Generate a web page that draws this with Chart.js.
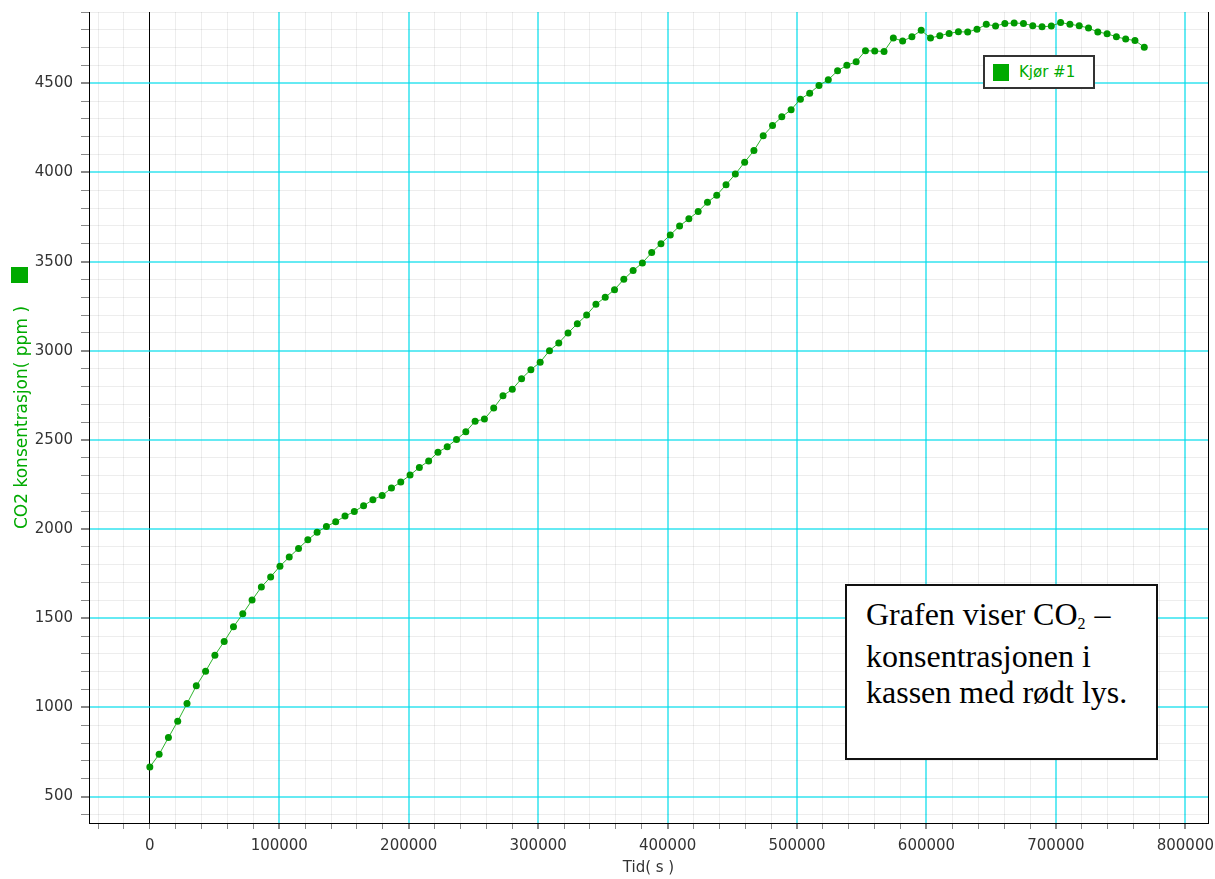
<!DOCTYPE html>
<html lang="no">
<head>
<meta charset="utf-8">
<title>CO2 konsentrasjon</title>
<script src="https://cdn.jsdelivr.net/npm/chart.js@4.4.1/dist/chart.umd.min.js"></script>
<style>
  html, body { margin: 0; padding: 0; background: #fff; }
  .wrap { position: relative; width: 1215px; height: 879px; overflow: hidden; }
  #co2Chart { display: block; }

  /* green marker above the y-axis title */
  .y-marker { position: absolute; left: 11px; top: 267px; width: 17px; height: 16px; background: #00AA00; }

  /* legend (filled from the chart by the htmlLegend plugin) */
  .legend-box {
    position: absolute; left: 983px; top: 55px; width: 112px; height: 34px;
    box-sizing: border-box; border: 2px solid #333; background: #fff;
    display: flex; align-items: center;
    font: 15px 'DejaVu Sans', sans-serif;
  }
  .legend-box .swatch { width: 16px; height: 17px; margin: 0 10px 0 8px; }

  /* annotation box */
  .note {
    position: absolute; left: 845px; top: 584px; width: 313px; height: 176px;
    box-sizing: border-box; border: 2px solid #111; background: #fff;
    padding: 10px 0 0 19px; white-space: nowrap;
    font: 32px/36px 'Liberation Serif', 'Times New Roman', serif; color: #000;
  }
  .note .sub { font-size: 16px; position: relative; top: 4px; margin-right: 1px; }
</style>
</head>
<body>
<div class="wrap">
  <canvas id="co2Chart" width="1215" height="879"></canvas>
  <div class="y-marker"></div>
  <div class="legend-box" id="legend"></div>
  <div class="note">Grafen viser CO<span class="sub">2</span> –<br>konsentrasjonen i<br>kassen med rødt lys.</div>
</div>

<script>
/* ----------------------------------------------------------- */
/* DATA — time (s) and CO2 (ppm)      */
/* ----------------------------------------------------------- */
const timeSec = [
  0, 7180, 14360, 21540, 28720, 35900, 43080, 50260, 57440, 64620,
  71800, 78980, 86160, 93340, 100520, 107700, 114880, 122060, 129240, 136420,
  143600, 150780, 157960, 165140, 172320, 179500, 186680, 193860, 201040, 208220,
  215400, 222580, 229760, 236940, 244120, 251300, 258480, 265660, 272840, 280020,
  287200, 294380, 301560, 308740, 315920, 323100, 330280, 337460, 344640, 351820,
  359000, 366180, 373360, 380540, 387720, 394900, 402080, 409260, 416440, 423620,
  430800, 437980, 445160, 452340, 459520, 466700, 473880, 481060, 488240, 495420,
  502600, 509780, 516960, 524140, 531320, 538500, 545680, 552860, 560040, 567220,
  574400, 581580, 588760, 595940, 603120, 610300, 617480, 624660, 631840, 639020,
  646200, 653380, 660560, 667740, 674920, 682100, 689280, 696460, 703640, 710820,
  718000, 725180, 732360, 739540, 746720, 753900, 761080, 768260
];

const co2Ppm = [
  666, 737, 831, 923, 1022, 1121, 1203, 1293, 1370, 1452,
  1525, 1602, 1675, 1732, 1792, 1843, 1892, 1940, 1982, 2015,
  2041, 2073, 2099, 2131, 2165, 2189, 2230, 2264, 2303, 2346,
  2382, 2431, 2462, 2503, 2546, 2605, 2617, 2679, 2748, 2784,
  2844, 2894, 2936, 3001, 3044, 3100, 3152, 3201, 3261, 3300,
  3343, 3401, 3450, 3493, 3551, 3601, 3650, 3700, 3740, 3781,
  3833, 3873, 3931, 3991, 4058, 4123, 4206, 4263, 4312, 4352,
  4411, 4445, 4488, 4520, 4570, 4601, 4621, 4683, 4681, 4679,
  4754, 4737, 4761, 4797, 4754, 4767, 4780, 4789, 4788, 4803,
  4831, 4821, 4836, 4838, 4836, 4823, 4817, 4821, 4841, 4831,
  4823, 4810, 4788, 4778, 4761, 4748, 4740, 4703
];

const seriesLabel = 'Kjør #1';
const xTitle = 'Tid( s )';
const yTitle = 'CO2 konsentrasjon( ppm )';

// axis ranges and tick steps (minor step / labelled step)
const xRange = [-47000, 817500];
const xSteps = [20000, 100000];
const yRange = [352, 4900];
const ySteps = [100, 500];

(function () {
  'use strict';

  const GREEN = '#00AA00';
  // translucent so the black zero line stays solid where lines cross it
  const CYAN = 'rgba(0, 220, 235, 0.6)';
  const MINOR = 'rgba(0, 0, 0, 0.07)';
  const TICK_FONT = { family: "'DejaVu Sans', sans-serif", size: 15 };

  /* ----------------------------------------------------------- */
  /* HTML LEGEND                                                  */
  /* ----------------------------------------------------------- */
  const htmlLegend = {
    id: 'htmlLegend',
    afterUpdate(chart, args, opts) {
      const box = document.getElementById(opts.containerID);
      if (!box) return;
      box.innerHTML = '';
      const items = chart.options.plugins.legend.labels.generateLabels(chart);
      items.forEach(item => {
        const sw = document.createElement('span');
        sw.className = 'swatch';
        sw.style.background = item.fillStyle;
        const txt = document.createElement('span');
        txt.textContent = item.text;
        txt.style.color = item.fillStyle;
        box.appendChild(sw);
        box.appendChild(txt);
      });
    }
  };

  /* ----------------------------------------------------------- */
  /* AXIS HELPERS                                                 */
  /* ----------------------------------------------------------- */
  // ticks on every minor step inside the range (Chart.js would snap
  // the first tick to the axis minimum here)
  function stepTicks(step) {
    return scale => {
      const ticks = [];
      for (let v = Math.ceil(scale.min / step) * step; v <= scale.max; v += step) {
        ticks.push({ value: v });
      }
      scale.ticks = ticks;
    };
  }

  // keep the plot area where the frame is: no extra label padding
  function fixSize(prop, size) {
    return scale => {
      scale[prop] = size;
      scale.paddingTop = 0;
      scale.paddingBottom = 0;
      scale.paddingLeft = 0;
      scale.paddingRight = 0;
    };
  }

  const isMajor = (v, major) => v % major === 0;

  function gridColor(major) {
    return ctx => {
      const v = ctx.tick && ctx.tick.value;
      if (v === 0) return '#000';
      return isMajor(v, major) ? CYAN : MINOR;
    };
  }

  function gridWidth(major) {
    return ctx => {
      const v = ctx.tick && ctx.tick.value;
      return v !== 0 && isMajor(v, major) ? 2 : 1;
    };
  }

  /* ----------------------------------------------------------- */
  /* CHART                                                        */
  /* ----------------------------------------------------------- */
  const ctx = document.getElementById('co2Chart');
  new Chart(ctx.getContext('2d'), {
    type: 'scatter',
    data: {
      datasets: [{
        label: seriesLabel,
        data: timeSec.map((t, i) => ({ x: t, y: co2Ppm[i] })),
        showLine: true,
        borderColor: '#2DB42D',
        borderWidth: 1,
        backgroundColor: GREEN,
        pointBackgroundColor: '#009900',
        pointBorderWidth: 0,
        pointRadius: 3.5,
        pointHoverRadius: 3.5
      }]
    },
    options: {
      responsive: false,
      animation: false,
      layout: { padding: { left: 0, top: 12, right: 7, bottom: 0 } },
      scales: {
        x: {
          type: 'linear',
          min: xRange[0],
          max: xRange[1],
          afterBuildTicks: stepTicks(xSteps[0]),
          afterFit: fixSize('height', 56),
          border: { color: '#000', width: 1 },
          grid: { color: gridColor(xSteps[1]), lineWidth: gridWidth(xSteps[1]), tickColor: '#888', tickLength: 6 },
          ticks: {
            autoSkip: false,
            maxRotation: 0,
            padding: 8,
            color: '#333',
            font: TICK_FONT,
            callback: v => (isMajor(v, xSteps[1]) ? String(v) : '')
          },
          title: { display: true, text: xTitle, color: '#333', font: TICK_FONT, padding: { top: 0, bottom: 2 } }
        },
        y: {
          type: 'linear',
          min: yRange[0],
          max: yRange[1],
          afterBuildTicks: stepTicks(ySteps[0]),
          afterFit: fixSize('width', 89),
          border: { color: '#000', width: 1 },
          grid: { color: gridColor(ySteps[1]), lineWidth: gridWidth(ySteps[1]), tickColor: '#888', tickLength: 8 },
          ticks: {
            autoSkip: false,
            padding: 8,
            color: '#333',
            font: TICK_FONT,
            callback: v => (isMajor(v, ySteps[1]) ? String(v) : '')
          },
          title: {
            display: true, text: yTitle, color: GREEN,
            font: { family: "'DejaVu Sans', sans-serif", size: 17 },
            padding: { top: 12, bottom: 0 }
          }
        },
        // right-hand frame line only
        yRight: {
          position: 'right',
          display: true,
          afterFit: fixSize('width', 0),
          border: { color: '#000', width: 1 },
          grid: { drawOnChartArea: false, drawTicks: false },
          ticks: { display: false }
        }
      },
      plugins: {
        legend: { display: false },
        tooltip: { enabled: false },
        htmlLegend: { containerID: 'legend' }
      }
    },
    plugins: [htmlLegend]
  });
})();
</script>
</body>
</html>
